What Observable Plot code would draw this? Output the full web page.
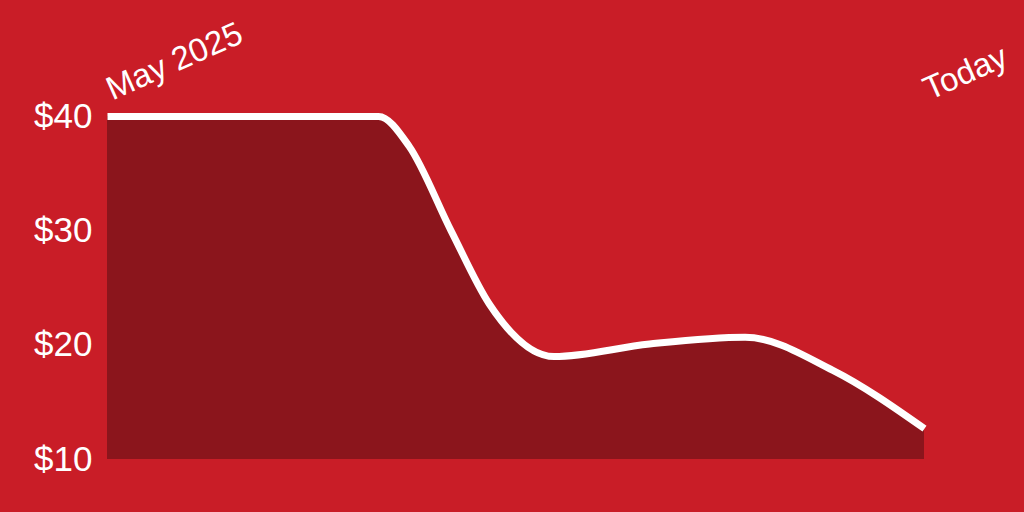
<!DOCTYPE html>
<html>
<head>
<meta charset="utf-8">
<script src="https://cdn.jsdelivr.net/npm/d3@7"></script>
<script src="https://cdn.jsdelivr.net/npm/@observablehq/plot@0.6"></script>
<style>
  html, body { margin: 0; padding: 0; background: #c91d27; }
  #chart { width: 1024px; height: 512px; }
</style>
</head>
<body>
<div id="chart"></div>
<script>
const dates = ["2025-05-01","2025-07-11","2025-07-19","2025-07-30","2025-08-09","2025-08-26","2025-09-20","2025-10-15","2025-11-07","2025-12-01"];
const prices = [40, 40, 37.4, 30.0, 23.6, 19.0, 20.1, 20.7, 17.8, 12.7];
const yTicks = [10, 20, 30, 40];
const labelDates = ["2025-05-01", "2025-12-01"];
const labelTexts = ["May 2025", "Today"];

const data = dates.map((d, i) => ({date: new Date(d), price: prices[i]}));
const labels = labelDates.map((d, i) => ({date: new Date(d), text: labelTexts[i]}));

const chart = Plot.plot({
  width: 1024,
  height: 512,
  marginTop: 116,
  marginBottom: 53,
  marginLeft: 107,
  marginRight: 100,
  style: {background: "#c91d27", color: "white", fontFamily: "'Liberation Sans', Arial, sans-serif"},
  x: {type: "utc", axis: null},
  y: {domain: [10, 40], ticks: yTicks, axis: null},
  marks: [
    Plot.areaY(data, {x: "date", y1: 10, y2: "price", fill: "#8b151c", curve: "monotone-x"}),
    Plot.lineY(data, {x: "date", y: "price", stroke: "white", strokeWidth: 7, strokeLinecap: "butt", strokeLinejoin: "miter", curve: "monotone-x"}),
    Plot.axisY({ticks: yTicks, tickFormat: d => "$" + d, tickSize: 0, tickPadding: 15, fontSize: 35, fill: "white", label: null}),
    Plot.text(labels, {x: "date", y: 40, text: "text", rotate: -24, textAnchor: "start", lineAnchor: "bottom", dy: -16, dx: 5, fontSize: 33, fill: "white"})
  ]
});
document.getElementById("chart").append(chart);
</script>
</body>
</html>
